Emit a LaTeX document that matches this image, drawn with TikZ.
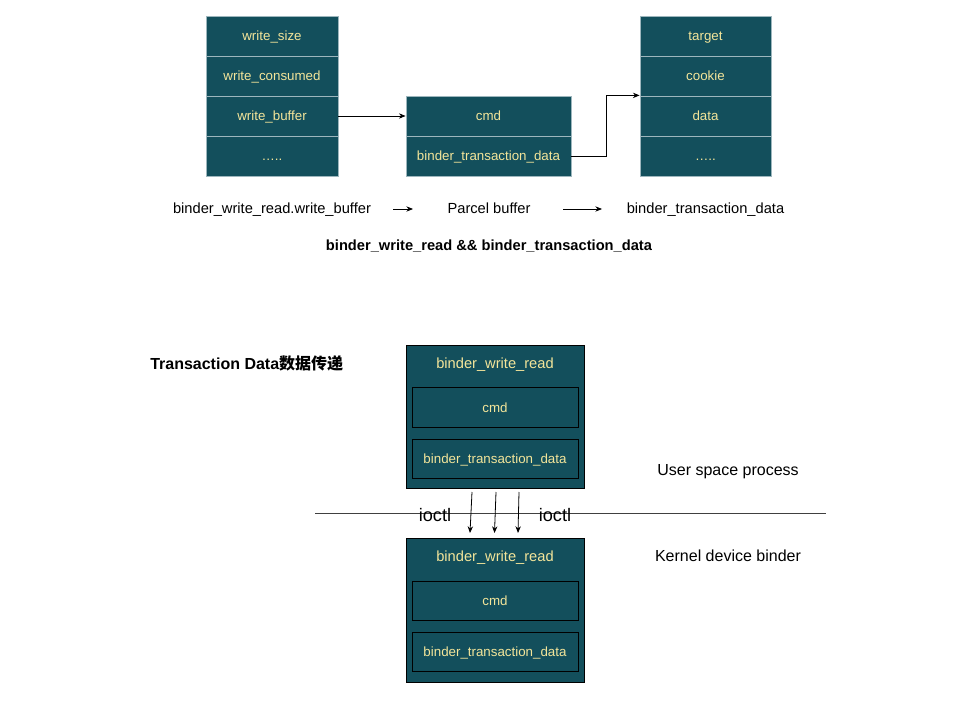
\documentclass[tikz,border=0pt]{standalone}
\usepackage{fontspec}
\setmainfont{Liberation Sans}
\newfontfamily\cjk{Noto Sans CJK SC}
\usetikzlibrary{arrows.meta}
\definecolor{teal}{HTML}{134F5C}
\definecolor{ylw}{HTML}{F3E59A}
\definecolor{sep}{HTML}{9DB6BD}
\begin{document}
\begin{tikzpicture}[x=0.75pt,y=-0.75pt,
  cell/.style={rectangle,fill=teal,draw=sep,line width=0.6pt,text=ylw,inner sep=0pt,
    text height=8.5pt,text depth=1pt,font=\fontsize{10}{12}\selectfont},
  outerbox/.style={rectangle,fill=teal,draw=black,line width=0.6pt,inner sep=0pt},
  innerbox/.style={rectangle,draw=black,line width=0.6pt,text=ylw,inner sep=0pt,
    text height=8.5pt,text depth=1pt,
    minimum width=124.5pt,font=\fontsize{10}{12}\selectfont},
  lbl/.style={inner sep=0pt,text height=8.5pt,text depth=1pt,font=\fontsize{11}{13}\selectfont},
  arr/.style={-{Stealth[length=5pt,width=4pt]},line width=0.6pt}]
\useasboundingbox (0,0) rectangle (960,720);
% top-left stack
\foreach \n/\t/\y in {a1/write\_size/36,a2/write\_consumed/76,a3/write\_buffer/116,a4/\dots../156}
  \node[cell,minimum width=99pt,minimum height=30pt] (\n) at (272,\y) {\t};
% middle
\node[cell,minimum width=123.75pt,minimum height=30pt] (b1) at (488.5,116) {cmd};
\node[cell,minimum width=123.75pt,minimum height=30pt] (b2) at (488.5,156) {binder\_transaction\_data};
% right stack
\foreach \n/\t/\y in {c1/target/36,c2/cookie/76,c3/data/116,c4/\dots../156}
  \node[cell,minimum width=98.25pt,minimum height=30pt] (\n) at (705.5,\y) {\t};
\draw[arr] (a3.east) -- (b1.west);
\draw[arr] (b2.east) -- ++(35,0) |- ([yshift=0.75pt]c2.south west);
% text row
\node[lbl] (t1) at (272,209) {binder\_write\_read.write\_buffer};
\node[lbl] (t2) at (489,209) {Parcel buffer};
\node[lbl] (t3) at (705.5,209) {binder\_transaction\_data};
\coordinate (p1) at (393,209); \coordinate (p2) at (413,209);
\coordinate (p3) at (563,209); \coordinate (p4) at (602,209);
\draw[arr] (p1) -- (p2);
\draw[arr] (p3) -- (p4);
\node[lbl,font=\bfseries\fontsize{11}{13}\selectfont] (title) at (489,246) {binder\_write\_read \&\& binder\_transaction\_data};
% bottom section
\node[lbl,anchor=west,font=\bfseries\fontsize{12}{14}\selectfont] (tdt) at (150,364) {Transaction Data{\cjk\bfseries 数据传递}};
% user box
\node[outerbox,minimum width=133.5pt,minimum height=107.25pt] (u) at (495,416.5) {};
\node[lbl,text=ylw] (ut) at (495,363) {binder\_write\_read};
\node[innerbox,minimum height=30pt] (uc) at (495,407) {cmd};
\node[innerbox,minimum height=29.25pt] (ub) at (495,458.5) {binder\_transaction\_data};
% kernel box
\node[outerbox,minimum width=133.5pt,minimum height=108pt] (k) at (495,610) {};
\node[lbl,text=ylw] (kt) at (495,556) {binder\_write\_read};
\node[innerbox,minimum height=29.25pt] (kc) at (495,600.5) {cmd};
\node[innerbox,minimum height=29.25pt] (kb) at (495,651.5) {binder\_transaction\_data};
% separator line
\coordinate (l1) at (315,513); \coordinate (l2) at (826,513);
\draw[line width=0.6pt,color=black!75] (l1) -- (l2);
\node[inner sep=0pt,text height=10pt,text depth=1pt,font=\fontsize{13.6}{15}\selectfont] (io1) at (435,515) {ioctl};
\node[inner sep=0pt,text height=10pt,text depth=1pt,font=\fontsize{13.6}{15}\selectfont] (io2) at (555,515) {ioctl};
\node[lbl,font=\fontsize{12}{14}\selectfont] (usp) at (728,470) {User space process};
\node[lbl,font=\fontsize{12}{14}\selectfont] (kdb) at (728,556) {Kernel device binder};
% ioctl arrows
\coordinate (s1) at (472,492); \coordinate (e1) at (470,533);
\coordinate (s2) at (496,492); \coordinate (e2) at (494.5,533);
\coordinate (s3) at (519,492); \coordinate (e3) at (518,533);
\draw[arr] (s1) -- (e1);
\draw[arr] (s2) -- (e2);
\draw[arr] (s3) -- (e3);
\end{tikzpicture}
\end{document}
